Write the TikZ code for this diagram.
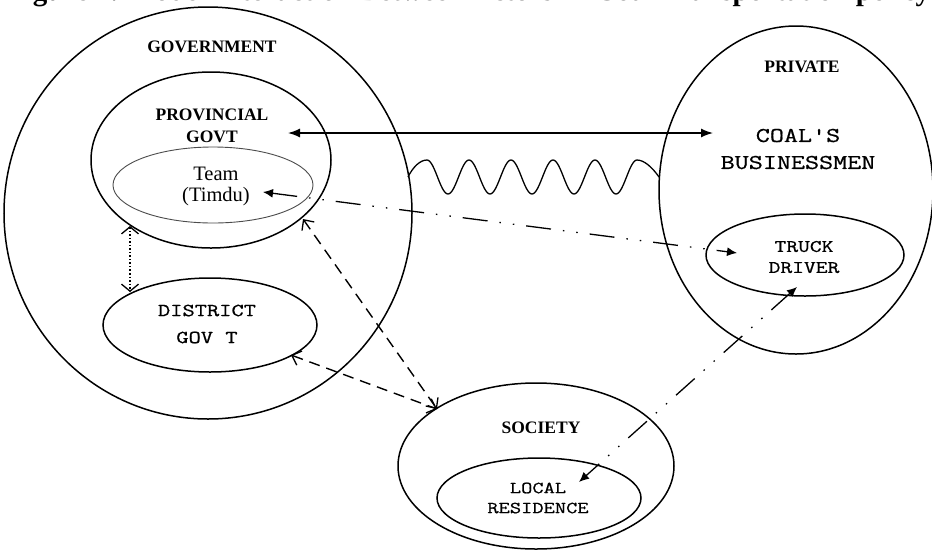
\documentclass[tikz,border=0pt]{standalone}
\usepackage{fontspec}
\setmainfont{Liberation Serif}
\newfontfamily\monof{Latin Modern Mono}[FakeStretch=1.3,FakeBold=0.8]
\usetikzlibrary{shapes.geometric,arrows.meta}
\tikzset{
  ell/.style={draw, ellipse, inner sep=0pt, line width=1.5pt},
  thinell/.style={draw=black!70, ellipse, inner sep=0pt, line width=0.9pt},
  boldlbl/.style={font=\bfseries\fontsize{17.5}{22}\selectfont, align=center, inner sep=0pt},
  serlbl/.style={font=\fontsize{20.5}{21}\selectfont, align=center, inner sep=0pt},
  monoA/.style={font=\monof\fontsize{21}{27}\selectfont, align=center, inner sep=0pt},
  monoB/.style={font=\monof\fontsize{18.3}{27}\selectfont, align=center, inner sep=0pt},
  monoC/.style={font=\monof\fontsize{17.6}{21}\selectfont, align=center, inner sep=0pt},
  monoD/.style={font=\monof\fontsize{16.8}{20}\selectfont, align=center, inner sep=0pt},
  bigtip/.tip={Latex[length=12pt,width=9pt]},
  smalltip/.tip={Latex[length=10pt,width=9pt]},
  vtip/.tip={Straight Barb[length=7pt,width=17pt,line width=1.3pt]},
  vtipb/.tip={Straight Barb[length=8pt,width=15pt,line width=1.3pt]},
  link/.style={line width=1.4pt},
  dashdotdot/.style={line width=1.3pt, dash pattern=on 25pt off 12pt on 1.5pt off 12pt on 1.5pt off 12pt},
  dashedlink/.style={line width=1.4pt, dash pattern=on 11pt off 7pt},
  dottedlink/.style={line width=1.7pt, dash pattern=on 1.5pt off 2pt},
}
\begin{document}
\begin{tikzpicture}[x=1pt,y=-1pt]
\useasboundingbox (0,0) rectangle (932,550);
\clip (0,0) rectangle (932,550);
\fill[white] (0,0) rectangle (932,550);

% title (cut off at the top in the reference)
\node[anchor=base west, inner sep=0pt, font=\bfseries\fontsize{29}{29}\selectfont] (title) at (7,0.5) {Figure 4. Model Interaction Between Actors In Coal Transportation policy};

% ellipses
\node[ell, minimum width=408pt, minimum height=412pt] (gov) at (208,213) {};
\node[ell, minimum width=240pt, minimum height=176pt] (prov) at (211,160) {};
\node[thinell, minimum width=200pt, minimum height=76pt] (team) at (213,185) {};
\node[ell, minimum width=214pt, minimum height=94pt] (dist) at (210,325) {};
\node[ell, minimum width=274pt, minimum height=328pt] (priv) at (796,190) {};
\node[ell, minimum width=198pt, minimum height=82pt] (truck) at (805,255) {};
\node[ell, minimum width=276pt, minimum height=166pt] (soc) at (536,466) {};
\node[ell, minimum width=204pt, minimum height=80pt] (local) at (539,498) {};

% labels
\node[boldlbl] (govlbl) at (212,47) {GOVERNMENT};
\node[boldlbl] (provlbl) at (212,126) {PROVINCIAL\\GOVT};
\node[serlbl] (teamlbl) at (216,186) {Team\\(Timdu)};
\node[monoB] (distlbl) at (207,324) {DISTRICT\\GOV T};
\node[boldlbl] (privlbl) at (802,67) {PRIVATE};
\node[monoA] (coallbl) at (798,149) {COAL'S\\BUSINESSMEN};
\node[monoC] (trucklbl) at (804,257) {TRUCK\\DRIVER};
\node[boldlbl] (soclbl) at (541,428) {SOCIETY};
\node[monoD] (locallbl) at (538,498) {LOCAL\\RESIDENCE};

% connector end points
\coordinate (s1) at (288,133);
\coordinate (s2) at (713,133);
\coordinate (t1) at (263,192);
\coordinate (t2) at (737,253);
\coordinate (d1) at (797,287);
\coordinate (d2) at (579,482);
\coordinate (p1) at (130,226);
\coordinate (p2) at (130,292);
\coordinate (q1) at (303,219);
\coordinate (q2) at (291,355);
\coordinate (q3) at (437,409);
\coordinate (w0) at (408,177);
\coordinate (w1) at (659,177);

% solid double arrow provincial <-> businessmen
\draw[link, {bigtip}-{bigtip}] (s1) -- (s2);

% wave (conflict) between government and private
\draw[line width=1.3pt] (w0) .. controls (413,167) and (420,160) .. (427,160)
  -- plot[domain=0:5, samples=151, smooth, variable=\t] ({427+42*\t},{177-17*cos(360*\t)})
  .. controls (644,160) and (652,167) .. (w1);

% dash-dot-dot: team <-> truck driver
\draw[dashdotdot, {smalltip}-{smalltip}] (t1) -- (t2);
% dash-dot-dot: truck driver <-> local residence
\draw[dashdotdot, {smalltip}-{smalltip}] (d1) -- (d2);

% dotted: provincial <-> district
\draw[dottedlink, {vtip}-{vtip}] (p1) -- (p2);

% dashed: provincial <-> society, district <-> society
\draw[dashedlink, {vtipb}-{vtipb}] (q1) -- (q3);
\draw[dashedlink, {vtipb}-{vtipb}] (q2) -- (q3);
\end{tikzpicture}
\end{document}
